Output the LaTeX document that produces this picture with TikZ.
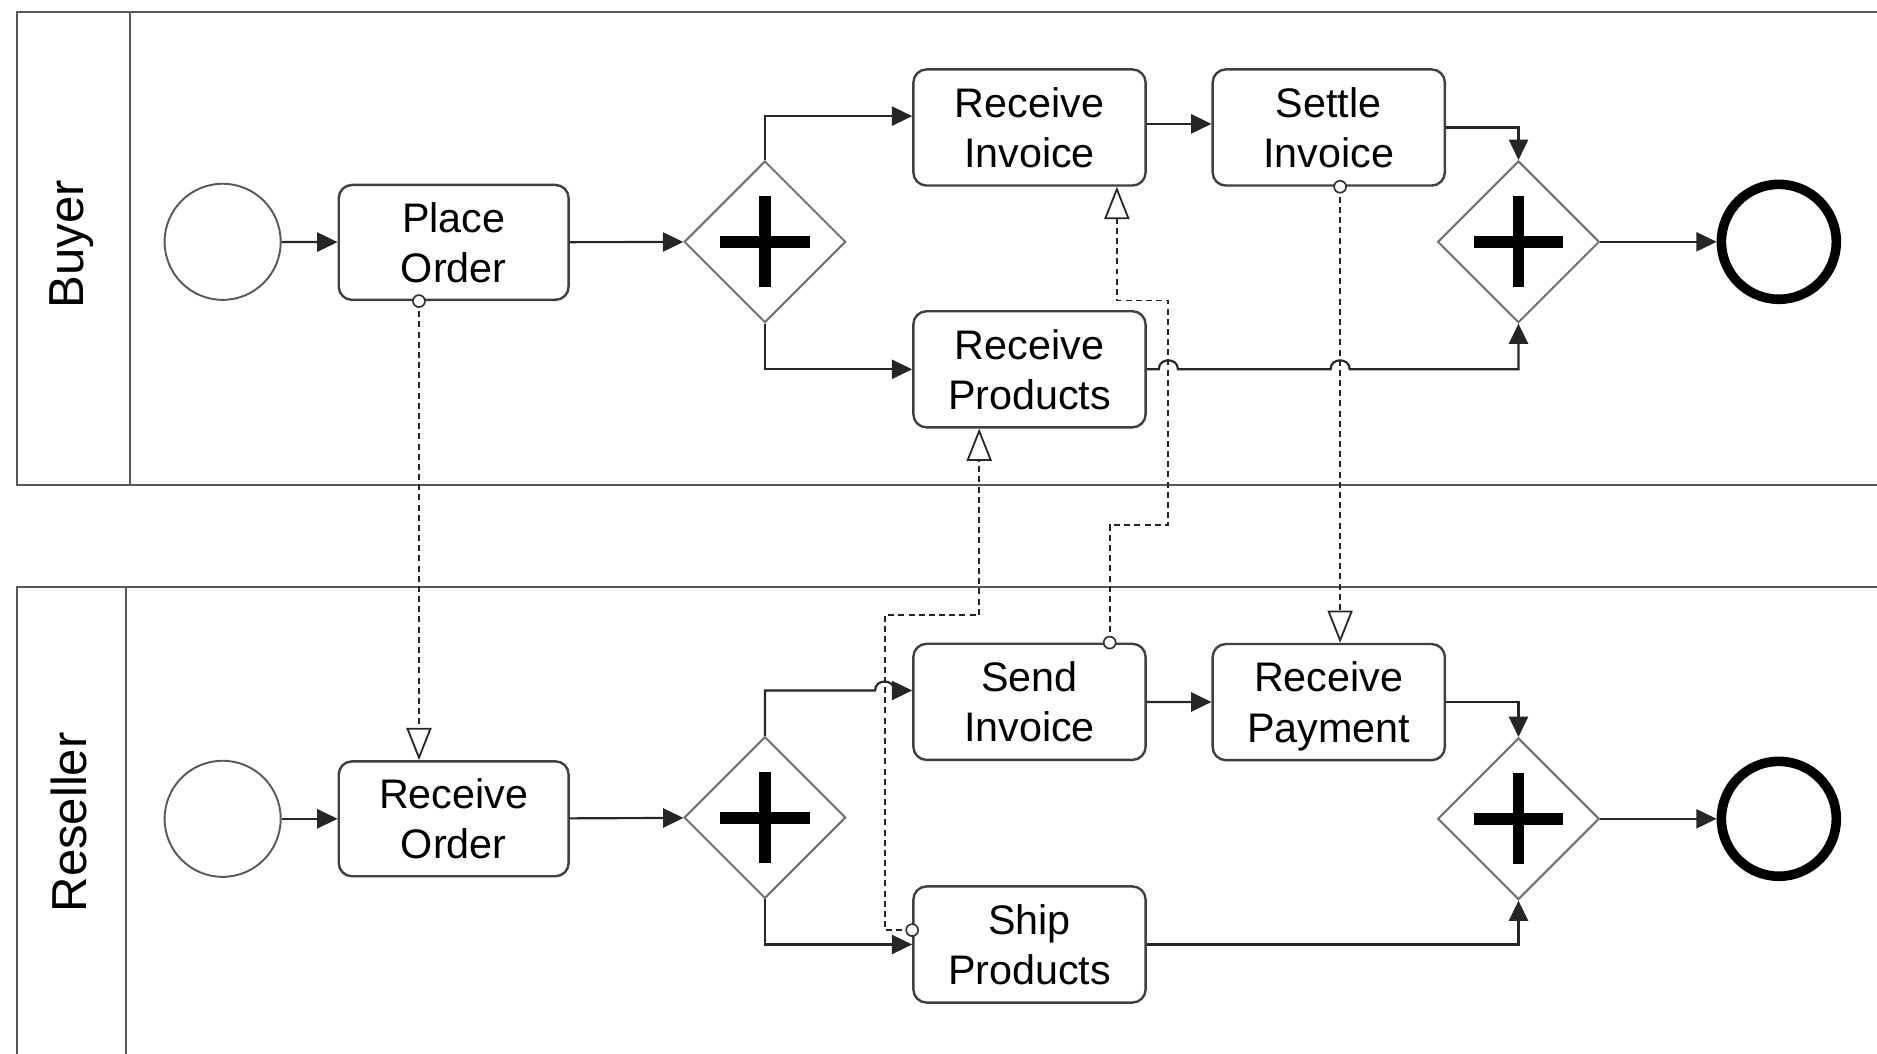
\documentclass[tikz,border=0pt]{standalone}
\usepackage{fontspec}
\setmainfont{Liberation Sans}
\usetikzlibrary{arrows.meta,shapes.geometric,calc}

\tikzset{
  lane/.style={draw=black!65, line width=1.9pt},
  task/.style={draw=black!75, line width=2pt, rounded corners=11pt, fill=white,
    minimum width=194pt, minimum height=97pt, inner sep=0pt, align=center,
    text depth=0pt, font=\fontsize{34.5}{42}\selectfont},
  startev/.style={circle, draw=black!65, line width=1.6pt, fill=white,
    minimum size=97pt, inner sep=0pt},
  endev/.style={circle, draw=black, line width=8pt, fill=white,
    minimum size=96pt, inner sep=0pt},
  gateway/.style={diamond, draw=black!55, line width=1.7pt, fill=white,
    minimum width=135pt, minimum height=135pt, inner sep=0pt},
  plusmark/.style={line width=10pt, black},
  flow/.style={draw=black!85, line width=1.8pt, -{Triangle[length=17pt,width=16pt]}},
  msg/.style={draw=black!85, line width=1.5pt, dash pattern=on 5pt off 3.5pt,
    -{Triangle[length=27pt,width=21pt,fill=white]}},
  msgdot/.style={draw=black!80, line width=1.4pt, fill=white},
  lanelabel/.style={rotate=90, font=\fontsize{41}{48}\selectfont},
}

\begin{document}
\begin{tikzpicture}[x=1pt,y=-1pt]
\useasboundingbox (0,0) rectangle (1568,880);
\clip (0,0) rectangle (1568,880);

% swimlanes
\draw[lane] (1600,10) -| (14,405) -- (1600,405);
\draw[lane] (108.5,10) -- (108.5,405);
\draw[lane] (1600,490.5) -| (14,900);
\draw[lane] (105.5,490.5) -- (105.5,900);
\node[lanelabel] (buyerlbl) at (59.5,204) {Buyer};
\node[lanelabel] (resellerlbl) at (57.5,687) {Reseller};

% buyer process
\node[startev] (bs) at (186,202) {};
\node[task, minimum width=192pt, minimum height=96pt] (po) at (379,202.5) {Place\\Order};
\node[gateway] (g1) at (639,202) {};
\node[task] (ri) at (860,106.5) {Receive\\Invoice};
\node[task] (si) at (1110,106.5) {Settle\\Invoice};
\node[task] (rp) at (860,308.5) {Receive\\Products};
\node[gateway] (g2) at (1268.5,202) {};
\node[endev] (be) at (1486,202) {};

% reseller process
\node[startev] (rs) at (186,684) {};
\node[task, minimum width=192pt, minimum height=96pt] (ro) at (379,684) {Receive\\Order};
\node[gateway] (g3) at (639,683) {};
\node[task] (sd) at (860,586.3) {Send\\Invoice};
\node[task] (rpy) at (1110,586.5) {Receive\\Payment};
\node[task] (sp) at (860,789) {Ship\\Products};
\node[gateway] (g4) at (1268.5,684) {};
\node[endev] (re) at (1486,684) {};

% parallel gateway markers
\foreach \g in {g1,g2,g3,g4}
  \draw[plusmark] ($(\g)+(-37.5,0)$) -- ($(\g)+(37.5,0)$)
                  ($(\g)+(0,-38)$) -- ($(\g)+(0,38)$);

% message flow bend points
\coordinate (mA1) at ($(po.south)+(-29,0)$);
\coordinate (mA2) at ($(ro.north)+(-29,0)$);
\coordinate (mB0) at ($(sd.north)+(67,0)$);
\coordinate (mB1) at (976,438.5);
\coordinate (mB2) at (976,251);
\coordinate (mB3) at ($(ri.south)+(73,0)$);
\coordinate (mC1) at ($(si.south)+(9.5,0)$);
\coordinate (mC2) at ($(rpy.north)+(9.5,0)$);
\coordinate (mD0) at ($(sp.west)+(0,-12)$);
\coordinate (mD1) at (739,514);
\coordinate (mD2) at ($(rp.south)+(-42,0)$);
\coordinate (riIn) at ($(ri.west)+(0,-9.5)$);
\coordinate (sdIn) at ($(sd.west)+(0,-9.5)$);

% sequence flows, buyer
\draw[flow] (bs) -- (po);
\draw[flow] (po) -- (g1);
\draw[flow] (g1.north) |- (riIn);
\draw[flow] ($(ri.east)+(0,-3)$) -- ($(si.west)+(0,-3)$);
\draw[flow] (si.east) -| (g2.north);
\draw[flow] (g1.south) |- (rp.west);
\draw[flow] (rp.east) -- ($(rp.east -| mB1)+(-8,0)$)
  .. controls +(0,-10) and +(0,-10) .. ($(rp.east -| mB1)+(8,0)$)
  -- ($(rp.east -| mC1)+(-8,0)$)
  .. controls +(0,-10) and +(0,-10) .. ($(rp.east -| mC1)+(8,0)$)
  -| (g2.south);
\draw[flow] (g2) -- (be);

% sequence flows, reseller
\draw[flow] (rs) -- (ro);
\draw[flow] (ro) -- (g3);
\draw[flow] (g3.north) |- ($(mD1 |- sdIn)+(-8,0)$)
  .. controls +(0,-10) and +(0,-10) .. ($(mD1 |- sdIn)+(8,0)$) -- (sdIn);
\draw[flow] (sd) -- (rpy);
\draw[flow] (rpy.east) -| (g4.north);
\draw[flow] (g3.south) |- (sp.west);
\draw[flow] (sp.east) -| (g4.south);
\draw[flow] (g4) -- (re);

% message flows
\draw[msg] (mA1) -- (mA2);
\draw[msg] (mB0) |- (mB1) -- (mB2) -| (mB3);
\draw[msg] (mC1) -- (mC2);
\draw[msg] (mD0) -| (mD1) -| (mD2);
\foreach \p in {mA1,mB0,mC1,mD0}
  \draw[msgdot] (\p) circle[radius=5];
\end{tikzpicture}
\end{document}
